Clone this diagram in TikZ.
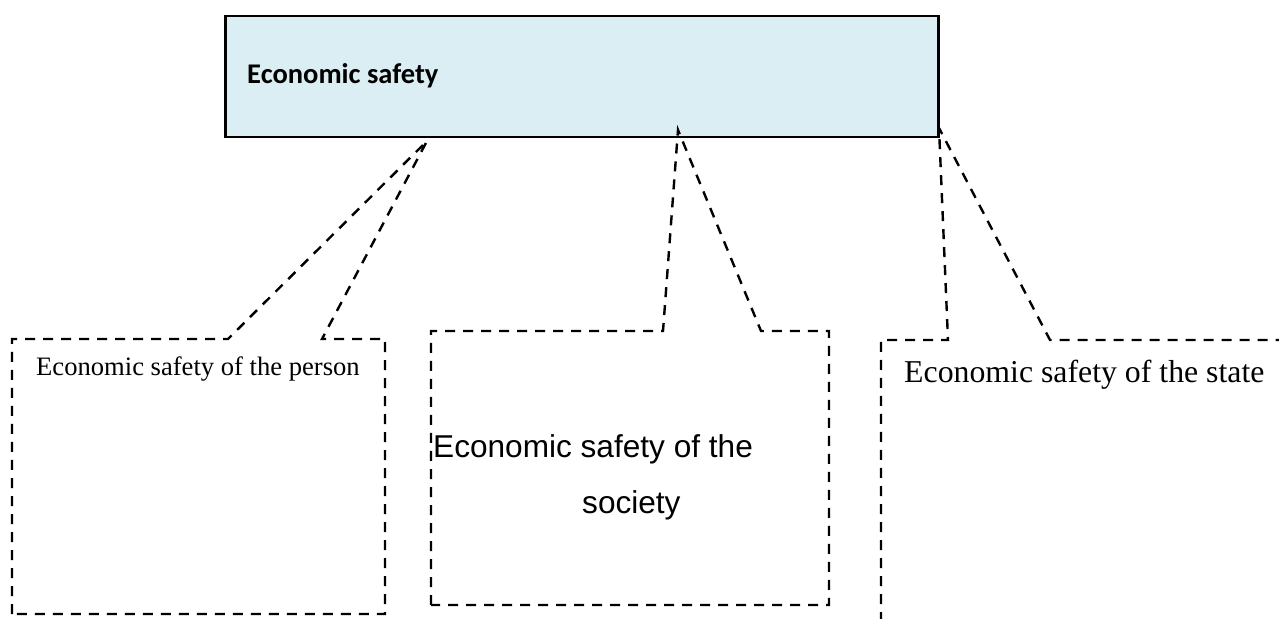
\documentclass[tikz,border=0pt]{standalone}
\usepackage{fontspec}
\setmainfont{Liberation Serif}
\newfontfamily\calibrifont{Carlito}
\newfontfamily\arialfont{Liberation Sans}
\definecolor{topfill}{HTML}{DAEEF3}
\begin{document}
\begin{tikzpicture}[x=1bp,y=-1bp,
  callout/.style={draw=black, line width=2.4bp, dash pattern=on 10bp off 8bp, line join=miter},
  topbox/.style={draw=black, line width=2.5bp, fill=topfill, inner sep=0pt, anchor=north west},
  lbl/.style={anchor=base west, inner sep=0pt, text=black}]
\path[use as bounding box] (0,0) rectangle (1279,619);
\clip (0,0) rectangle (1279,619);
% top box
\node[topbox, minimum width=713bp, minimum height=121bp] (top) at (224,15) {};
\node[lbl, font=\calibrifont\bfseries\fontsize{28.5bp}{34bp}\selectfont] (toplbl) at (247,84) {Economic safety};
% apex points of the callouts
\coordinate (pA) at (427,141);
\coordinate (sA) at (678,130);
\coordinate (tA) at (939,128);
% person callout
\draw[callout] (12,614) -- (12,339) -- (228,339) -- (pA) -- (322,339) -- (385,339) -- (385,614) -- cycle;
% society callout
\draw[callout] (431,605) -- (431,331) -- (663,331) -- (sA) -- (761,331) -- (829,331) -- (829,605) -- cycle;
% state callout (runs past the picture's edges)
\draw[callout] (881,640) -- (881,340) -- (948,340) -- (tA) -- (1050,340) -- (1300,340);
% texts
\node[lbl, font=\fontsize{26.6bp}{32bp}\selectfont] (person) at (36,376) {Economic safety of the person};
\node[lbl, font=\arialfont\fontsize{31.6bp}{38bp}\selectfont] (soc1) at (433,457) {Economic safety of the};
\node[lbl, font=\arialfont\fontsize{31.6bp}{38bp}\selectfont] (soc2) at (582,513) {society};
\node[lbl, font=\fontsize{31.8bp}{38bp}\selectfont] (state) at (904,383) {Economic safety of the state};
\end{tikzpicture}
\end{document}
